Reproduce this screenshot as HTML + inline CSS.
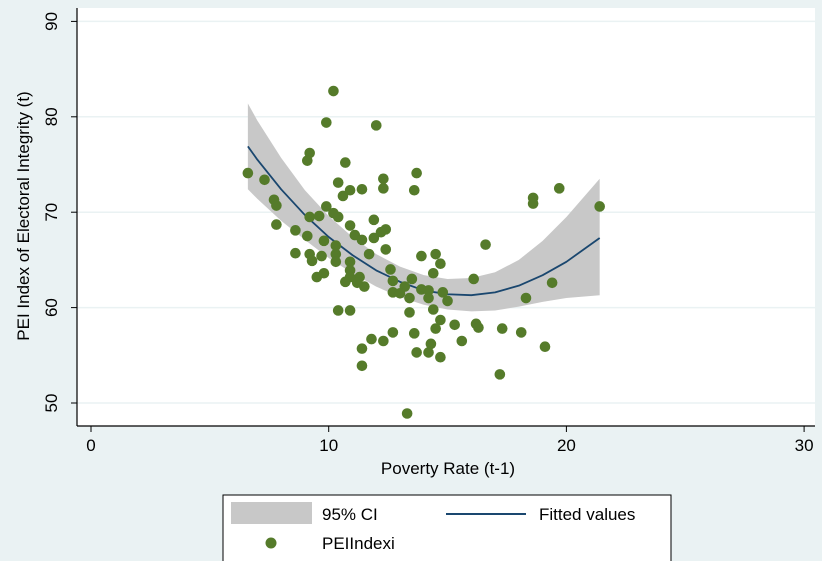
<!DOCTYPE html>
<html><head><meta charset="utf-8"><style>
body{margin:0;background:#eaf2f3;}
svg{display:block;font-family:"Liberation Sans",sans-serif;}
</style></head><body>
<svg id="chart" width="822" height="561" viewBox="0 0 822 561">
<rect x="0" y="0" width="822" height="561" fill="#eaf2f3"/>
<rect x="77" y="8" width="738" height="418" fill="#ffffff"/>
<g id="grid"></g><g id="ci"></g><g id="fit"></g><g id="pts"></g><g id="axes"></g>
<text x="448" y="474" text-anchor="middle" font-size="17" fill="#000">Poverty Rate (t-1)</text>
<text transform="translate(29,216) rotate(-90)" text-anchor="middle" font-size="17" fill="#000">PEI Index of Electoral Integrity (t)</text>
<g>
<rect x="223" y="495" width="448" height="70" fill="#fff" stroke="#000" stroke-width="1"/>
<rect x="231" y="502" width="81" height="22" fill="#c8c8c8"/>
<text x="322" y="520" font-size="17">95% CI</text>
<line x1="446" y1="514" x2="526" y2="514" stroke="#1a476f" stroke-width="2"/>
<text x="539" y="520" font-size="17">Fitted values</text>
<circle cx="271" cy="543" r="5.5" fill="#557b2a"/>
<text x="322" y="549" font-size="17">PEIIndexi</text>
</g>
</svg>
<script>
const xVals=[10.2,9.9,12.0,9.2,9.1,10.7,6.6,7.3,13.7,12.3,12.3,13.6,10.4,10.9,11.4,10.6,7.7,7.8,9.9,10.2,10.4,9.2,9.6,7.8,8.6,9.1,9.8,10.9,11.9,12.4,12.2,11.1,11.4,11.9,10.3,12.4,16.6,13.9,14.5,8.6,9.2,9.7,10.3,11.7,9.3,10.3,10.9,14.7,14.4,16.1,12.6,12.7,13.5,13.2,12.7,13.0,13.4,13.9,14.2,14.2,14.8,15.0,14.4,13.4,18.3,19.4,10.9,10.9,11.3,11.2,11.5,10.7,9.5,9.8,10.4,10.9,14.7,14.5,15.3,16.2,16.3,17.3,18.1,19.1,15.6,13.6,12.7,11.8,12.3,11.4,11.4,13.7,14.3,14.2,14.7,17.2,13.3,19.7,18.6,18.6,21.4];
const yVals=[82.7,79.4,79.1,76.2,75.4,75.2,74.1,73.4,74.1,73.5,72.5,72.3,73.1,72.3,72.4,71.7,71.3,70.7,70.6,69.9,69.5,69.5,69.6,68.7,68.1,67.5,67.0,68.6,69.2,68.2,67.9,67.6,67.1,67.3,66.5,66.1,66.6,65.4,65.6,65.7,65.6,65.4,65.6,65.6,64.9,64.8,64.8,64.6,63.6,63.0,64.0,62.8,63.0,62.2,61.6,61.5,61.0,61.9,61.8,61.0,61.6,60.7,59.8,59.5,61.0,62.6,63.9,63.2,63.2,62.6,62.2,62.7,63.2,63.6,59.7,59.7,58.7,57.8,58.2,58.3,57.9,57.8,57.4,55.9,56.5,57.3,57.4,56.7,56.5,55.7,53.9,55.3,56.2,55.3,54.8,53.0,48.9,72.5,71.5,70.9,70.6];
const fitX=[6.6,7,8,9,10,11,12,13,14,15,16,17,18,19,20,21.4];
const fitY=[76.9,75.5,72.4,69.7,67.4,65.5,63.9,62.7,61.8,61.4,61.3,61.6,62.3,63.4,64.8,67.3];
const ciUpper=[81.4,79.6,75.7,72.3,69.6,67.4,65.6,64.3,63.4,63.0,63.1,63.7,65.0,67.0,69.5,73.5];
const ciLower=[72.4,71.4,69.1,67.1,65.2,63.6,62.2,61.1,60.3,59.8,59.6,59.7,60.1,60.6,61.0,61.3];
const xTicks=[0,10,20,30];
const yTicks=[50,60,70,80,90];
const NS="http://www.w3.org/2000/svg";
function sx(v){return 91+v*23.77;}
function sy(v){return 403-(v-50)*9.54;}
function mk(t,a,p){const e=document.createElementNS(NS,t);for(const k in a)e.setAttribute(k,a[k]);p.appendChild(e);return e;}
const grid=document.getElementById('grid'),axes=document.getElementById('axes');
yTicks.forEach(v=>{
 const g=mk('line',{x1:77,x2:815,y1:sy(v),y2:sy(v),stroke:'#eaf2f3','stroke-width':1.5},grid);
 
 
 const t=mk('line',{x1:71,x2:77,y1:sy(v),y2:sy(v),stroke:'#000'},axes);
 
 
 const l=mk('text',{transform:`translate(57,${sy(v)}) rotate(-90)`,'text-anchor':'middle','font-size':17},axes);
 l.textContent=v;
 
 
});
xTicks.forEach(v=>{
 const t=mk('line',{x1:sx(v),x2:sx(v),y1:426,y2:432,stroke:'#000'},axes);
 
 
 const l=mk('text',{x:sx(v),y:451,'text-anchor':'middle','font-size':17},axes);
 l.textContent=v;
 
 
});
const al=mk('line',{x1:77,x2:77,y1:8,y2:426,stroke:'#000','stroke-width':1.2},axes);


const bl=mk('line',{x1:77,x2:815,y1:426,y2:426,stroke:'#000','stroke-width':1.2},axes);


let d='';fitX.forEach((x,i)=>{d+=(i?'L':'M')+sx(x)+','+sy(ciUpper[i]);});
for(let i=fitX.length-1;i>=0;i--)d+='L'+sx(fitX[i])+','+sy(ciLower[i]);
const band=mk('path',{d:d+'Z',fill:'#c8c8c8','stroke-linejoin':'round'},document.getElementById('ci'));


const fl=mk('polyline',{points:fitX.map((x,i)=>sx(x)+','+sy(fitY[i])).join(' '),fill:'none',stroke:'#1a476f','stroke-width':1.8,'stroke-linejoin':'round'},document.getElementById('fit'));


const pts=document.getElementById('pts');
xVals.forEach((x,i)=>{
 const c=mk('circle',{cx:sx(x),cy:sy(yVals[i]),r:5.3,fill:'#557b2a'},pts);
 
 
});
</script>
</body></html>
